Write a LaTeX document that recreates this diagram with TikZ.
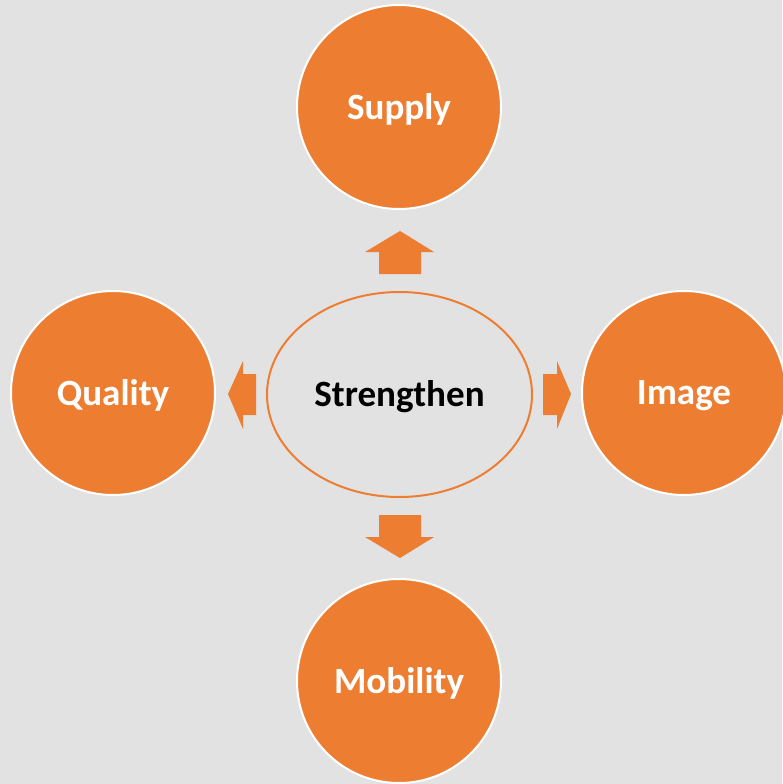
\documentclass[tikz,border=0pt]{standalone}
\usepackage{fontspec}
\setmainfont{Carlito}
\usetikzlibrary{shapes.geometric}
\definecolor{orng}{HTML}{ED7D31}
\definecolor{bg}{HTML}{E2E2E2}
\newcommand{\lbl}[1]{\raisebox{-1.9pt}[\height][\depth]{#1}}
\tikzset{
  bubble/.style={circle,fill=orng,draw=white,line width=1.5pt,minimum size=153pt,inner sep=0pt,text=white,font=\fontsize{27.8}{30}\selectfont\bfseries},
  hub/.style={ellipse,draw=orng,line width=1.5pt,minimum width=198.75pt,minimum height=153.75pt,inner sep=0pt,text=black,font=\fontsize{27.8}{30}\selectfont\bfseries},
  blockarrow/.style={fill=orng,draw=none}
}
\begin{document}
\begin{tikzpicture}[x=0.75pt,y=-0.75pt]
\fill[bg] (0,0) rectangle (782,784);
\useasboundingbox (0,0) rectangle (782,784);
\node[hub] (c) at (399.5,394.5) {\lbl{Strengthen}};
\node[bubble] (s) at (399,107) {\lbl{Supply}};
\node[bubble] (q) at (113,393) {\lbl{Quality}};
\node[bubble] (i) at (684,393) {\lbl{Image}};
\node[bubble] (m) at (399,681) {\lbl{Mobility}};
% up arrow
\fill[blockarrow] (379,274) -- (379,252) -- (365,252) -- (400,231) -- (434,252) -- (421,252) -- (421,274) -- cycle;
% down arrow
\fill[blockarrow] (379,515) -- (379,537) -- (365,537) -- (400,558) -- (434,537) -- (421,537) -- (421,515) -- cycle;
% left arrow
\fill[blockarrow] (256,374) -- (243,374) -- (243,361) -- (228,394) -- (243,429) -- (243,415) -- (256,415) -- cycle;
% right arrow
\fill[blockarrow] (543,374) -- (557,374) -- (557,361) -- (571,394) -- (557,429) -- (557,415) -- (543,415) -- cycle;
\end{tikzpicture}
\end{document}
